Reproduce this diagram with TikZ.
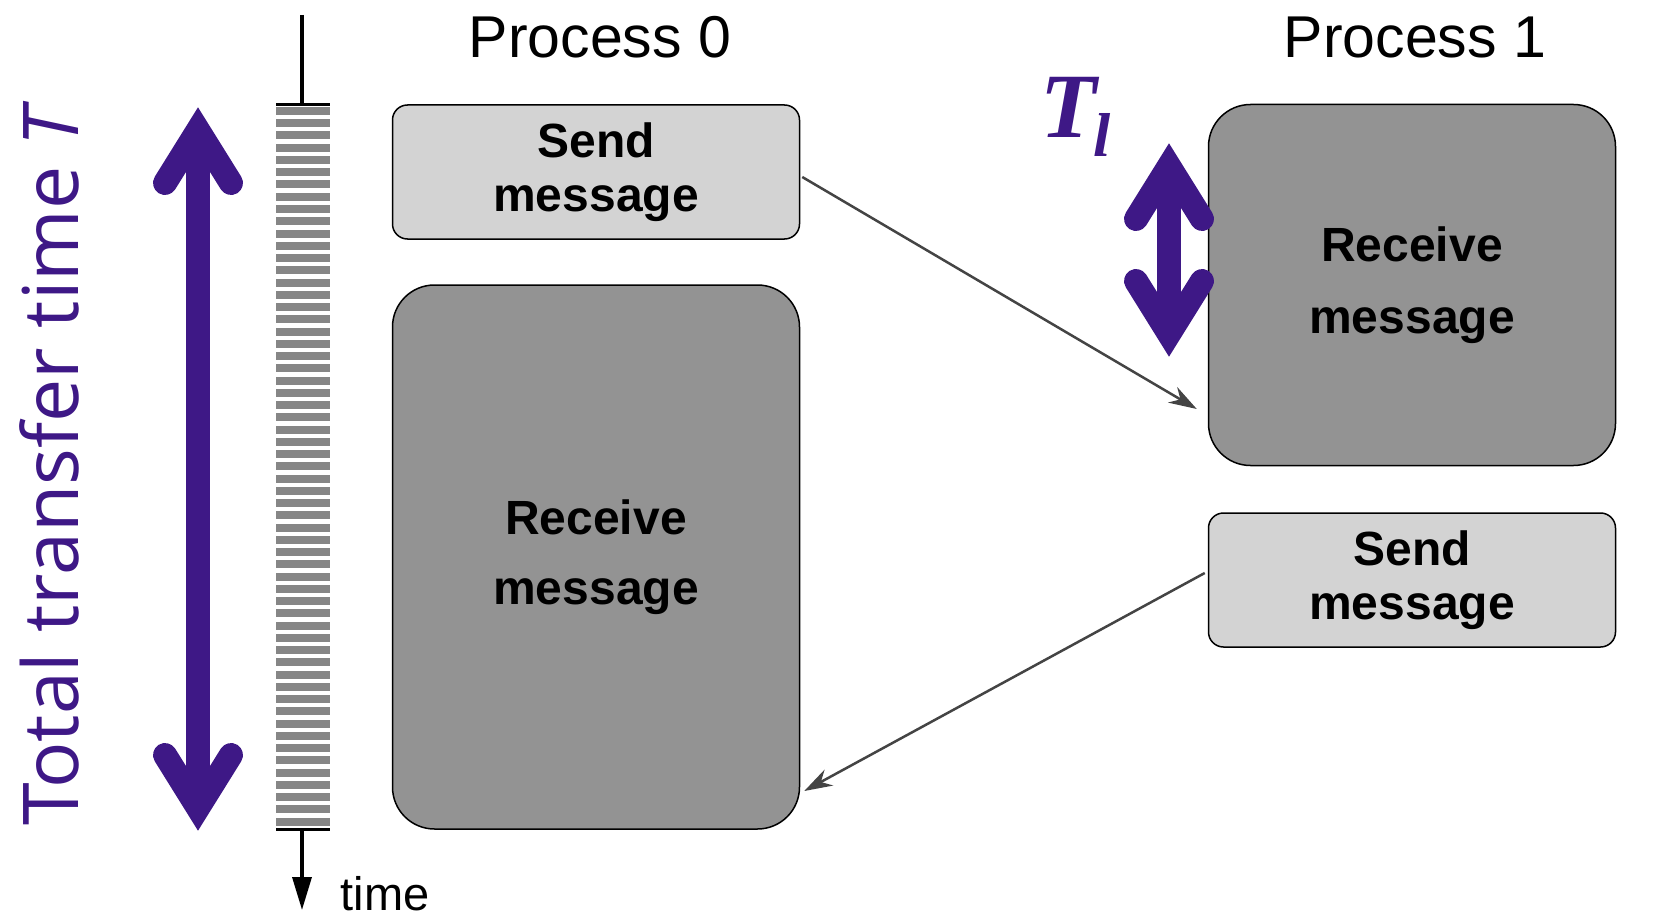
\documentclass[tikz,border=0pt]{standalone}
\usepackage{fontspec}
\setmainfont{Liberation Sans}
\newfontfamily\sidefont{Open Sans}
\newfontfamily\serfont{Liberation Serif}
\usetikzlibrary{arrows.meta,calc}
\definecolor{tpurple}{HTML}{3E1886}
\definecolor{lgray}{HTML}{D3D3D3}
\definecolor{dgray}{HTML}{939393}
\definecolor{agray}{HTML}{444444}
\begin{document}
\begin{tikzpicture}[x=1pt,y=-1pt,
    sendbox/.style={draw,line width=1.5pt,fill=lgray,rounded corners=15pt,minimum width=407pt,minimum height=134pt,align=center,font=\bfseries\fontsize{48}{54}\selectfont},
    recvbox/.style={draw,line width=1.5pt,fill=dgray,rounded corners=42pt,minimum width=407pt,align=center,font=\bfseries\fontsize{48}{70}\selectfont},
    proc/.style={anchor=base,font=\fontsize{59}{59}\selectfont},
    msg/.style={draw=agray,line width=2.5pt,-{Stealth[length=28pt,width=18pt]}},
    shaft/.style={tpurple,line width=24pt},
    barb/.style={tpurple,line width=24pt,line cap=round,line join=miter}]
    \useasboundingbox (0,0) rectangle (1654,920);
    % time axis
    \foreach \i in {0,...,58}
        \fill[gray!95] (276,{107+\i*12.25}) rectangle (330,{115+\i*12.25});
    \draw[line width=3pt] (276,105) -- (330,105) (276,829) -- (330,829);
    \coordinate (ttop) at (302,15);
    \coordinate (bartop) at (302,105);
    \coordinate (barbot) at (302,829);
    \coordinate (tend) at (302,910);
    \draw[line width=3.5pt] (ttop) -- (bartop);
    \draw[line width=3.5pt,-{Triangle[length=33pt,width=19pt]}] (barbot) -- (tend);
    \node[anchor=base west,font=\fontsize{47}{47}\selectfont] (tlab) at (337,910) {time};
    % total time
    \draw[shaft] (198,128) -- (198,810);
    \draw[barb] (165,183) -- (198,130) -- (231,183);
    \draw[barb] (165,755) -- (198,808) -- (231,755);
    \node[rotate=90,anchor=base west,inner sep=0,text=tpurple,font=\sidefont\fontsize{77}{77}\selectfont] (ttl) at (78,826) {Total transfer time {\itshape T}};
    % processes
    \node[proc] (p0) at (600,58) {Process 0};
    \node[proc] (p1) at (1415,58) {Process 1};
    \node[sendbox] (s0) at (596,172) {Send\\message};
    \node[recvbox,minimum height=544pt] (r0) at (596,557) {Receive\\message};
    \node[recvbox,minimum height=361pt] (r1) at (1412,285) {\raisebox{-4pt}{Receive}\\[2pt]\raisebox{-4pt}{message}};
    \node[sendbox] (s1) at (1412,580) {Send\\message};
    \draw[msg] ($(s0.east)+(2,5)$) -- ($(r1.west)+(-11,124)$);
    \draw[msg] ($(s1.west)+(-3,-7)$) -- ($(r0.east)+(4,234)$);
    % latency
    \draw[shaft] (1169,166) -- (1169,334);
    \draw[barb] (1136,219) -- (1169,166) -- (1202,219);
    \draw[barb] (1136,281) -- (1169,334) -- (1202,281);
    \node[anchor=base west,inner sep=0,text=tpurple,font=\serfont\bfseries\itshape\fontsize{92}{92}\selectfont] (tl) at (1040,138) {T\kern-3pt\raisebox{-19pt}{\fontsize{62}{62}\selectfont l}};
\end{tikzpicture}
\end{document}
